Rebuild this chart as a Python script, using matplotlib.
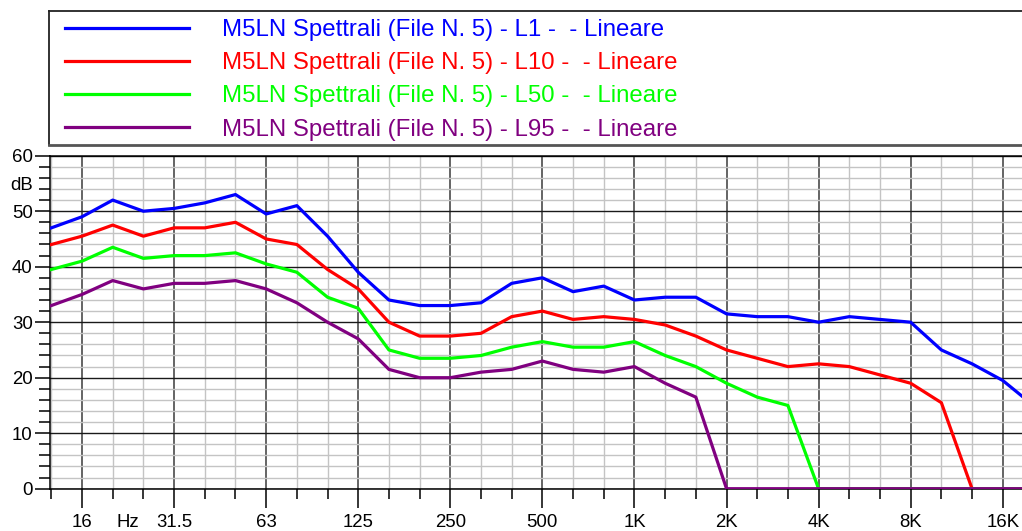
import matplotlib
matplotlib.use("Agg")
import matplotlib.pyplot as plt
from matplotlib.ticker import FixedLocator, NullFormatter, FixedFormatter

plt.rcParams['font.family'] = ['Liberation Sans', 'DejaVu Sans']

# 1/3 octave bands (12.5 Hz .. 20 kHz)
bands = ["12.5", "16", "20", "25", "31.5", "40", "50", "63", "80", "100",
         "125", "160", "200", "250", "315", "400", "500", "630", "800", "1K",
         "1.25K", "1.6K", "2K", "2.5K", "3.15K", "4K", "5K", "6.3K", "8K", "10K",
         "12.5K", "16K", "20K"]

L1 = [47.0, 49.0, 52.0, 50.0, 50.5, 51.5, 53.0, 49.5, 51.0, 45.5,
      39.0, 34.0, 33.0, 33.0, 33.5, 37.0, 38.0, 35.5, 36.5, 34.0,
      34.5, 34.5, 31.5, 31.0, 31.0, 30.0, 31.0, 30.5, 30.0, 25.0,
      22.5, 19.5, 15.0]
L10 = [44.0, 45.5, 47.5, 45.5, 47.0, 47.0, 48.0, 45.0, 44.0, 39.5,
       36.0, 30.0, 27.5, 27.5, 28.0, 31.0, 32.0, 30.5, 31.0, 30.5,
       29.5, 27.5, 25.0, 23.5, 22.0, 22.5, 22.0, 20.5, 19.0, 15.5,
       0.0, 0.0, 0.0]
L50 = [39.5, 41.0, 43.5, 41.5, 42.0, 42.0, 42.5, 40.5, 39.0, 34.5,
       32.5, 25.0, 23.5, 23.5, 24.0, 25.5, 26.5, 25.5, 25.5, 26.5,
       24.0, 22.0, 19.0, 16.5, 15.0, 0.0, 0.0, 0.0, 0.0, 0.0,
       0.0, 0.0, 0.0]
L95 = [33.0, 35.0, 37.5, 36.0, 37.0, 37.0, 37.5, 36.0, 33.5, 30.0,
       27.0, 21.5, 20.0, 20.0, 21.0, 21.5, 23.0, 21.5, 21.0, 22.0,
       19.0, 16.5, 0.0, 0.0, 0.0, 0.0, 0.0, 0.0, 0.0, 0.0,
       0.0, 0.0, 0.0]

series_labels = ["M5LN Spettrali (File N. 5) - L1 -  - Lineare",
                 "M5LN Spettrali (File N. 5) - L10 -  - Lineare",
                 "M5LN Spettrali (File N. 5) - L50 -  - Lineare",
                 "M5LN Spettrali (File N. 5) - L95 -  - Lineare"]
series_colors = ["#0000ff", "#ff0000", "#00ff00", "#800080"]

major_labels = {"16": "16", "31.5": "31.5", "63": "63", "125": "125", "250": "250",
                "500": "500", "1K": "1K", "2K": "2K", "4K": "4K", "8K": "8K", "16K": "16K"}
unit_label = "Hz"
y_ticks = [0, 10, 20, 30, 40, 50, 60]

W, H = 1022, 531
fig = plt.figure(figsize=(W / 100, H / 100), dpi=100)

xs = list(range(len(bands)))
x_left, x_right = -0.06, 32.0
ax_left_px = 49.5
px_per_band = 30.69
ax_w_px = (x_right - x_left) * px_per_band
ax_top_px, ax_bot_px = 155.7, 488.7
ax = fig.add_axes([ax_left_px / W, 1 - ax_bot_px / H, ax_w_px / W, (ax_bot_px - ax_top_px) / H])

ax.set_xlim(x_left, x_right)
ax.set_ylim(0, 60)

maj_idx = [bands.index(b) for b in major_labels]
min_idx = [i for i in xs if i not in maj_idx]
ax.xaxis.set_major_locator(FixedLocator(maj_idx))
ax.xaxis.set_major_formatter(FixedFormatter(list(major_labels.values())))
ax.xaxis.set_minor_locator(FixedLocator(min_idx))
ax.xaxis.set_minor_formatter(NullFormatter())

ax.yaxis.set_major_locator(FixedLocator(y_ticks))
ax.yaxis.set_major_formatter(FixedFormatter([str(v) for v in y_ticks]))
ax.yaxis.set_minor_locator(FixedLocator([v for v in range(0, 61, 2) if v % 10]))
ax.yaxis.set_minor_formatter(NullFormatter())

fs_tick = 13.4
maj_len_x, min_len_x = 14.0, 7.5
x_pad = 4.5
ax.tick_params(axis='x', which='major', length=maj_len_x, width=1.1, color='black',
               labelsize=fs_tick, pad=x_pad)
ax.tick_params(axis='x', which='minor', length=min_len_x, width=1.1, color='black')
ax.tick_params(axis='y', which='major', length=11, width=1.1, color='black',
               labelsize=fs_tick, pad=1.0)
ax.tick_params(axis='y', which='minor', length=8, width=1.1, color='black')

# "Hz" unit label between the 20 and 25 Hz ticks
hz_pos = (bands.index("20") + bands.index("25")) / 2
ax.annotate(unit_label, xy=(hz_pos, 0), xycoords=('data', 'axes fraction'),
            xytext=(0, -(maj_len_x + x_pad)), textcoords='offset points',
            ha='center', va='top', fontsize=fs_tick)

# grid
ax.grid(which='minor', axis='both', color='#c4c4c4', lw=1.0)
ax.grid(which='major', axis='x', color='#3a3a3a', lw=1.1)
ax.grid(which='major', axis='y', color='#1a1a1a', lw=1.0)
ax.set_axisbelow(True)

for sp in ax.spines.values():
    sp.set_color('black')
    sp.set_linewidth(1.1)

handles = []
for vals, lab, col in zip([L1, L10, L50, L95], series_labels, series_colors):
    h, = ax.plot(xs, vals, color=col, lw=2.3, label=lab, solid_joinstyle='round', zorder=3)
    handles.append(h)

ax.annotate("dB", xy=(0, 54.7), xycoords=('axes fraction', 'data'),
            xytext=(-12.0, 0), textcoords='offset points', ha='right', va='center',
            fontsize=fs_tick)

# legend box
leg_top, leg_bot = 11.3, 145.0
lax = fig.add_axes([49.3 / W, 1 - leg_bot / H, 1.2, (leg_bot - leg_top) / H])
lax.set_xticks([])
lax.set_yticks([])
for sp in lax.spines.values():
    sp.set_color('#222222')
    sp.set_linewidth(1.3)
lax.spines['bottom'].set_color('#555555')
lax.spines['bottom'].set_linewidth(2.0)

leg = lax.legend(handles, series_labels, loc='upper left',
                 bbox_to_anchor=(65 / W, 1 - 19.0 / H), bbox_transform=fig.transFigure,
                 frameon=False, borderpad=0, borderaxespad=0,
                 fontsize=17.3, handlelength=124 / 24.0, handletextpad=33 / 24.0,
                 labelspacing=0.465)
for t, c in zip(leg.get_texts(), series_colors):
    t.set_color(c)
for lh in leg.get_lines():
    lh.set_linewidth(2.3)

fig.savefig("out.png", dpi=100)
